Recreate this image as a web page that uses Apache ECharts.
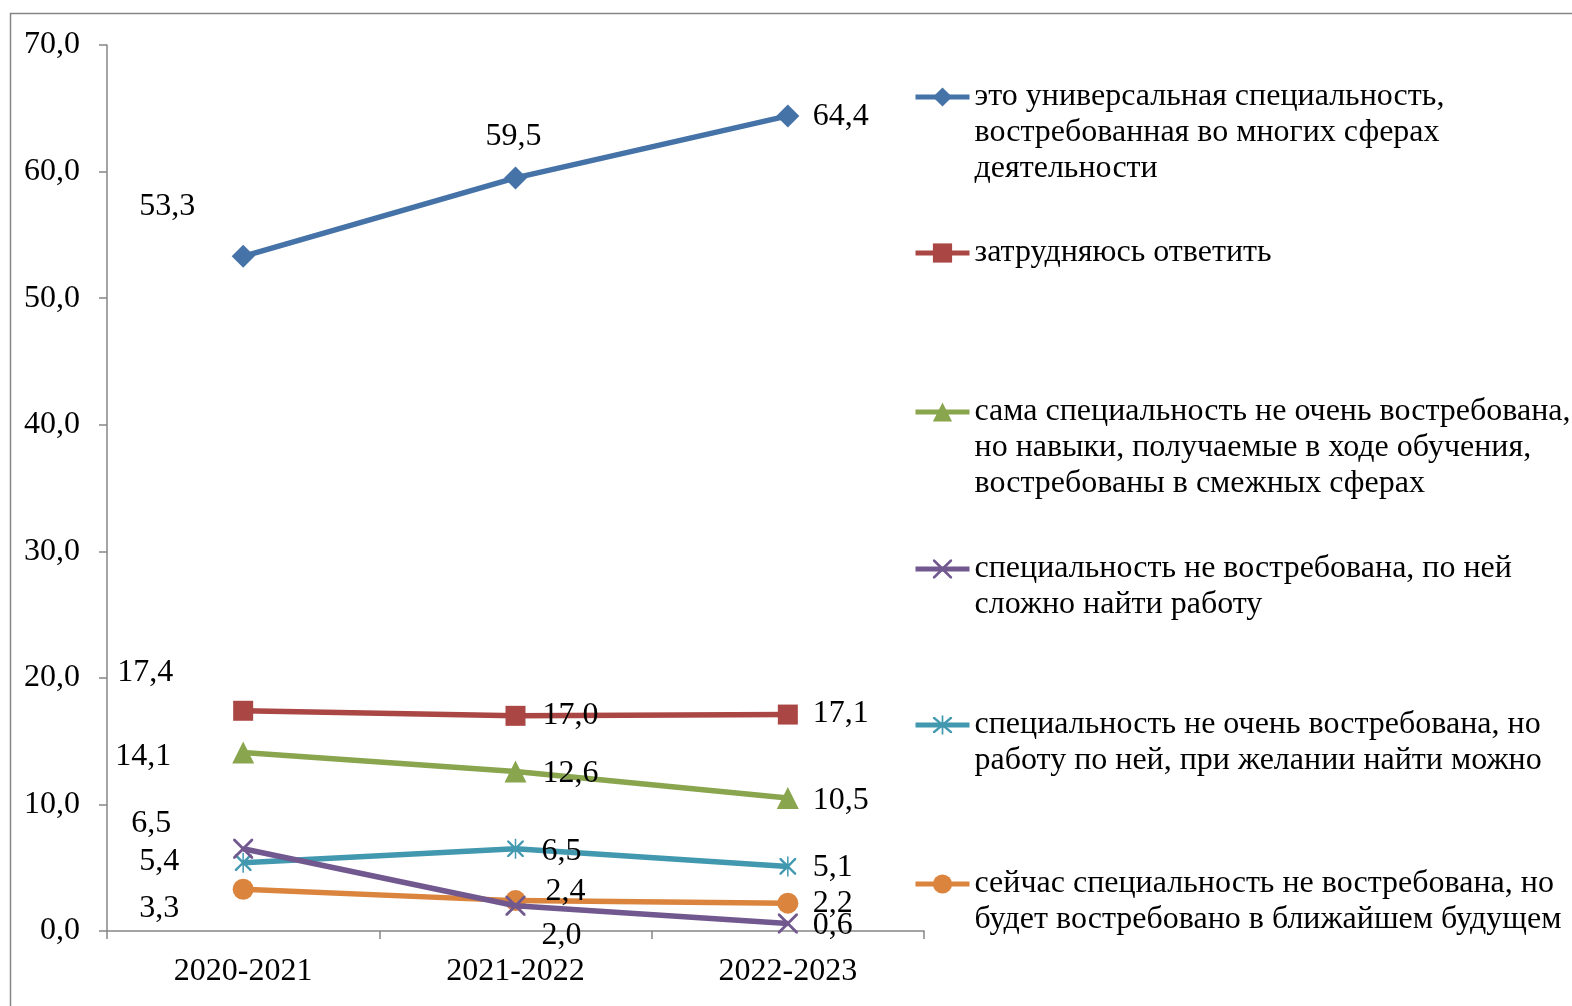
<!DOCTYPE html>
<html><head><meta charset="utf-8">
<script src="https://cdn.jsdelivr.net/npm/echarts@6/dist/echarts.min.js"></script>
<style>html,body{margin:0;padding:0;background:#fff}#c{width:1572px;height:1006px}</style>
</head><body><div id="c"></div>
<script>
var categories = ['2020-2021', '2021-2022', '2022-2023'];
var seriesNames = [
  'это универсальная специальность, востребованная во многих сферах деятельности',
  'затрудняюсь ответить',
  'сама специальность не очень востребована, но навыки, получаемые в ходе обучения, востребованы в смежных сферах',
  'специальность не востребована, по ней сложно найти работу',
  'специальность не очень востребована, но работу по ней, при желании найти можно',
  'сейчас специальность не востребована, но будет востребовано в ближайшем будущем'
];
var legendLines = [
  ['это универсальная специальность,', 'востребованная во многих сферах', 'деятельности'],
  ['затрудняюсь ответить'],
  ['сама специальность не очень востребована,', 'но навыки, получаемые в ходе обучения,', 'востребованы в смежных сферах'],
  ['специальность не востребована, по ней', 'сложно найти работу'],
  ['специальность не очень востребована, но', 'работу по ней, при желании найти можно'],
  ['сейчас специальность не востребована, но', 'будет востребовано в ближайшем будущем']
];
var universal = [53.3, 59.5, 64.4];
var hardToSay = [17.4, 17.0, 17.1];
var adjacent = [14.1, 12.6, 10.5];
var notInDemand = [6.5, 2.0, 0.6];
var canFind = [5.4, 6.5, 5.1];
var future = [3.3, 2.4, 2.2];
var yTicks = [0, 10, 20, 30, 40, 50, 60, 70];

// styling
var FONT = '"Liberation Serif", "Times New Roman", serif';
var FS = 32;
var colors = ['#4572A7', '#AA4643', '#89A54E', '#71588F', '#4198AF', '#DB843D'];
var xPath = 'path://M0,0 L2,0 L10,8 L18,0 L20,0 L20,2 L12,10 L20,18 L20,20 L18,20 L10,12 L2,20 L0,20 L0,18 L8,10 L0,2 Z';
var starPath = 'path://M0,0 L2,0 L10,8 L18,0 L20,0 L20,2 L12,10 L20,18 L20,20 L18,20 L10,12 L2,20 L0,20 L0,18 L8,10 L0,2 Z M9.1,-2 L10.9,-2 L10.9,22 L9.1,22 Z';
var symbols = ['diamond', 'rect', 'triangle', xPath, starPath, 'circle'];
var symbolSizes = [23, 20, 22, 20, 20, 21];
var labelOffsets = [
  [[-76, -50], [-2, -41], [53, 1]],
  [[-98, -38], [55, 0], [53, -1]],
  [[-100, 4], [55, 2], [53, 2]],
  [[-92, -25], [46, 30], [45, 2]],
  [[-84, -1], [46, 3], [45, 1]],
  [[-84, 19], [50, -9], [45, 0]]
];
var legendCenters = [97, 253, 412, 569, 725, 884];
var LH = 36;

var allData = [universal, hardToSay, adjacent, notInDemand, canFind, future];
function fmt(v) { return v.toFixed(1).replace('.', ','); }

var series = allData.map(function (vals, si) {
  return {
    name: seriesNames[si],
    type: 'line',
    data: vals.map(function (v, i) {
      return {
        value: v,
        label: { offset: labelOffsets[si][i] }
      };
    }),
    symbol: symbols[si],
    symbolSize: symbolSizes[si],
    symbolKeepAspect: true,
    color: colors[si],
    lineStyle: { width: 5.5, color: colors[si] },
    itemStyle: { color: colors[si] },
    z: 10 - si,
    label: {
      show: true,
      position: 'inside',
      formatter: function (p) { return fmt(p.value); },
      fontFamily: FONT, fontSize: FS, color: '#000'
    },
    animation: false
  };
});

var legends = seriesNames.map(function (nm, si) {
  var n = legendLines[si].length;
  var pre = '';
  for (var k = 1; k < n; k++) pre += ' \n';
  return {
    data: [nm],
    orient: 'vertical',
    left: 913,
    top: legendCenters[si] - (2 * n - 1) * LH / 2,
    padding: 0,
    itemWidth: 54,
    itemHeight: 24,
    itemGap: 0,
    selectedMode: false,
    lineStyle: { width: 5 },
    formatter: function () { return pre + legendLines[si].join('\n'); },
    textStyle: {
      fontFamily: FONT, fontSize: FS, color: '#000', lineHeight: LH
    }
  };
});

var chart = echarts.init(document.getElementById('c'));
chart.setOption({
  backgroundColor: '#fff',
  animation: false,
  graphic: [{
    type: 'rect', left: 8, top: 11,
    shape: { width: 1700, height: 1100 },
    style: { fill: 'none', stroke: '#868686', lineWidth: 1.5 },
    silent: true
  }],
  grid: { left: 107, right: 648, top: 45, bottom: 75, containLabel: false },
  xAxis: {
    type: 'category', data: categories, boundaryGap: true,
    axisLine: { lineStyle: { color: '#868686', width: 1.5 } },
    axisTick: { show: true, length: 8, lineStyle: { color: '#868686', width: 1.5 } },
    axisLabel: { fontFamily: FONT, fontSize: FS, color: '#000', margin: 25 }
  },
  yAxis: {
    type: 'value', min: yTicks[0], max: yTicks[yTicks.length - 1], interval: 10,
    axisLine: { show: true, lineStyle: { color: '#868686', width: 1.5 } },
    axisTick: { show: true, length: 8, lineStyle: { color: '#868686', width: 1.5 } },
    splitLine: { show: false },
    axisLabel: { fontFamily: FONT, fontSize: FS, color: '#000', margin: 27, formatter: function (v) { return fmt(v); } }
  },
  legend: legends,
  series: series
});
</script></body></html>
